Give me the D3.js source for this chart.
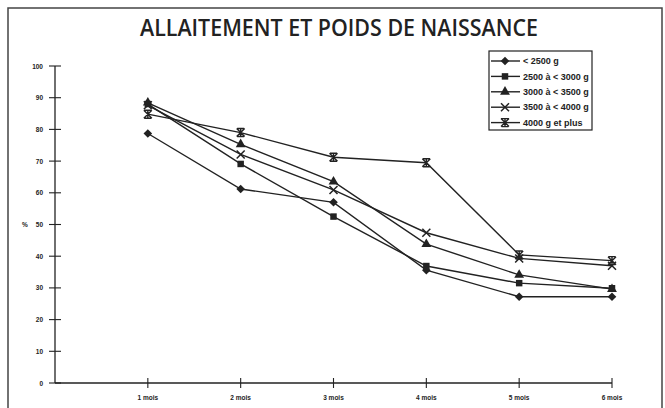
<!DOCTYPE html>
<html lang="fr">
<head>
<meta charset="UTF-8">
<script src="https://d3js.org/d3.v7.min.js"></script>
<style>
    body { margin: 0; background: #fff; }
    svg { display: block; }
    .tick-lbl { font-family: Arial, "Liberation Sans", sans-serif; font-size: 6.5px; font-weight: bold; fill: #222; }
    .leg-lbl { font-family: Arial, "Liberation Sans", sans-serif; font-size: 9px; font-weight: bold; fill: #222; }
</style>
</head>
<body>
<div id="chart"></div>
<script>
// data
const months = ["1 mois", "2 mois", "3 mois", "4 mois", "5 mois", "6 mois"];
const yTicks = [0, 10, 20, 30, 40, 50, 60, 70, 80, 90, 100];
const seriesNames = ["< 2500 g", "2500 à < 3000 g", "3000 à < 3500 g", "3500 à < 4000 g", "4000 g et plus"];
const lt2500   = [78.7, 61.2, 57.0, 35.6, 27.2, 27.2];
const s2500    = [88.0, 69.1, 52.5, 36.9, 31.5, 29.9];
const s3000    = [88.4, 75.3, 63.5, 43.8, 34.1, 29.6];
const s3500    = [87.6, 72.1, 60.9, 47.4, 39.3, 37.0];
const ge4000   = [84.8, 79.0, 71.2, 69.5, 40.4, 38.6];
const allSeries = [lt2500, s2500, s3000, s3500, ge4000];
const markers = ["diamond", "square", "triangle", "x", "star"];

const W = 665, H = 408;
const svg = d3.select("#chart").append("svg").attr("width", W).attr("height", H);

// frame
svg.append("rect").attr("x", 8).attr("y", 8).attr("width", 654).attr("height", 410)
    .attr("fill", "none").attr("stroke", "#444").attr("stroke-width", 1.5);

svg.append("text")
    .attr("x", 339).attr("y", 36)
    .attr("text-anchor", "middle")
    .attr("font-family", "'Open Sans', sans-serif")
    .attr("font-size", 24).attr("font-weight", 600)
    .attr("fill", "#222")
    .attr("textLength", 398).attr("lengthAdjust", "spacingAndGlyphs")
    .text("ALLAITEMENT ET POIDS DE NAISSANCE");

const x = d3.scaleLinear().domain([0, 6]).range([55, 612]);
const y = d3.scaleLinear().domain([0, 100]).range([383, 66]);
const ink = "#222";

// y axis
svg.append("line").attr("x1", 55).attr("x2", 55).attr("y1", y(100)).attr("y2", y(0))
    .attr("stroke", ink).attr("stroke-width", 1.3);
svg.selectAll(".yt").data(yTicks).enter().append("line")
    .attr("x1", 49).attr("x2", 61)
    .attr("y1", d => y(d)).attr("y2", d => y(d))
    .attr("stroke", ink).attr("stroke-width", 1.1);
svg.selectAll(".ylbl").data(yTicks).enter().append("text")
    .attr("class", "tick-lbl")
    .attr("x", 43).attr("y", d => y(d) + 2.5)
    .attr("text-anchor", "end")
    .text(d => d);
svg.append("text").attr("class", "tick-lbl").attr("x", 22).attr("y", y(50) + 2.5).text("%");

// x axis
svg.append("line").attr("x1", x(0)).attr("x2", x(6)).attr("y1", y(0)).attr("y2", y(0))
    .attr("stroke", ink).attr("stroke-width", 1.3);
svg.selectAll(".xt").data(months).enter().append("line")
    .attr("x1", (d, i) => x(i + 1)).attr("x2", (d, i) => x(i + 1))
    .attr("y1", y(0) - 5).attr("y2", y(0) + 5)
    .attr("stroke", ink).attr("stroke-width", 1.1);
svg.selectAll(".xlbl").data(months).enter().append("text")
    .attr("class", "tick-lbl")
    .attr("x", (d, i) => x(i + 1)).attr("y", 400)
    .attr("text-anchor", "middle")
    .text(d => d);

function marker(g, type, cx, cy) {
    if (type === "diamond") {
        g.append("path").attr("d", "M0,-4.3L4.3,0L0,4.3L-4.3,0Z").attr("transform", `translate(${cx},${cy})`).attr("fill", ink);
    } else if (type === "square") {
        g.append("path").attr("d", d3.symbol(d3.symbolSquare, 42)()).attr("transform", `translate(${cx},${cy})`).attr("fill", ink);
    } else if (type === "triangle") {
        g.append("path").attr("d", d3.symbol(d3.symbolTriangle, 42)()).attr("transform", `translate(${cx},${cy})`).attr("fill", ink);
    } else if (type === "x") {
        g.append("path").attr("d", "M-4,-4L4,4M-4,4L4,-4").attr("transform", `translate(${cx},${cy})`)
            .attr("stroke", ink).attr("stroke-width", 1.5).attr("fill", "none");
    } else {
        g.append("path").attr("d", "M-4,-4L4,4M-4,4L4,-4M-3.5,-4H3.5M-3.5,4H3.5M0,-4V4").attr("transform", `translate(${cx},${cy})`)
            .attr("stroke", ink).attr("stroke-width", 1.4).attr("fill", "none");
    }
}

const line = d3.line().x((d, i) => x(i + 1)).y(d => y(d));
allSeries.forEach((vals, s) => {
    svg.append("path").datum(vals).attr("d", line)
        .attr("fill", "none").attr("stroke", ink).attr("stroke-width", 1.4);
    const g = svg.append("g");
    vals.forEach((v, i) => marker(g, markers[s], x(i + 1), y(v)));
});

// legend
const leg = svg.append("g");
leg.append("rect").attr("x", 489).attr("y", 51).attr("width", 103).attr("height", 79)
    .attr("fill", "#fff").attr("stroke", ink).attr("stroke-width", 1.2);
seriesNames.forEach((name, s) => {
    const ly = 61 + s * 15.4;
    leg.append("line").attr("x1", 491).attr("x2", 520).attr("y1", ly).attr("y2", ly)
        .attr("stroke", ink).attr("stroke-width", 1.4);
    marker(leg, markers[s], 505, ly);
    leg.append("text").attr("class", "leg-lbl").attr("x", 523).attr("y", ly + 3.2).text(name);
});
</script>
</body>
</html>
